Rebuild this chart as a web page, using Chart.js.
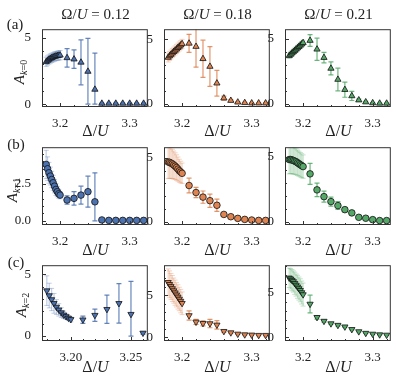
<!DOCTYPE html>
<html>
<head>
<meta charset="utf-8">
<script src="https://cdn.jsdelivr.net/npm/chart.js@4.4.0/dist/chart.umd.min.js"></script>
<style>
  body { margin: 0; background: #fff; }
  #page { position: relative; width: 396px; height: 379px; overflow: hidden; font-family: "Liberation Serif", serif; color: #222; }
  #page canvas { position: absolute; }
  .lbl { position: absolute; white-space: nowrap; transform: translate(-50%, -50%); line-height: 1; }
  .ylbl { position: absolute; white-space: nowrap; transform: translate(-50%, -50%) rotate(-90deg); line-height: 1; font-size: 15px; }
  sub { font-size: 10px; vertical-align: -3px; }
</style>
</head>
<body>
<div id="page"></div>
<script>
// ---- data ----
const omegas = ["0.12", "0.18", "0.21"];
const panelLetters = ["(a)", "(b)", "(c)"];
const kValues = ["0", "1", "2"];

// dense scan near the transition, then the coarse scan
const xDense = [3.180, 3.182, 3.184, 3.186, 3.188, 3.190, 3.192, 3.194, 3.196, 3.198, 3.200];
const xCoarse = [3.21, 3.22, 3.23, 3.24, 3.25, 3.26, 3.27, 3.28, 3.29, 3.30, 3.31, 3.32];
const xCoarseShort = [3.21, 3.22, 3.23, 3.24, 3.25, 3.26];

const xTicks = [3.2, 3.3];
const xTickLabels = ["3.2", "3.3"];
const xTicksFine = [3.20, 3.25];
const xTickLabelsFine = ["3.20", "3.25"];
const yTicks = [0, 5];
const yTickLabels = ["0", "5"];
const yTicksHalf = [0, 2.5];
const yTickLabelsHalf = ["0.0", "2.5"];

// k = 0
const k0w12 = [3.20, 3.30, 3.38, 3.45, 3.50, 3.55, 3.60, 3.63, 3.66, 3.68, 3.70,
  3.50, 3.40, 3.16, 2.47, 1.11, 0.05, 0.05, 0.05, 0.05, 0.05, 0.05, 0.05];
const k0w12Err = [0.35, 0.35, 0.35, 0.35, 0.35, 0.35, 0.35, 0.35, 0.35, 0.35, 0.35,
  0.70, 0.70, 1.70, 2.50, 2.75, 0.03, 0.03, 0.03, 0.03, 0.03, 0.03, 0.03];
const k0w18 = [3.60, 3.72, 3.83, 3.94, 4.05, 4.15, 4.25, 4.36, 4.46, 4.56, 4.66,
  4.70, 4.45, 3.50, 2.90, 1.60, 0.44, 0.25, 0.12, 0.08, 0.05, 0.05, 0.05];
const k0w18Err = [0.35, 0.35, 0.35, 0.35, 0.35, 0.35, 0.35, 0.35, 0.35, 0.35, 0.35,
  0.70, 1.60, 1.45, 1.55, 1.00, 0.15, 0.08, 0.05, 0.03, 0.02, 0.02, 0.02];
const k0w21 = [3.70, 3.80, 3.90, 4.00, 4.10, 4.20, 4.30, 4.40, 4.50, 4.60, 4.70,
  4.87, 4.20, 3.56, 2.73, 1.88, 1.10, 0.62, 0.30, 0.15, 0.08, 0.05, 0.05];
const k0w21Err = [0.20, 0.20, 0.20, 0.20, 0.20, 0.20, 0.20, 0.20, 0.20, 0.20, 0.20,
  0.45, 0.85, 0.40, 0.50, 0.87, 0.58, 0.35, 0.08, 0.05, 0.03, 0.02, 0.02];

// k = 1
const k1w12 = [3.79, 3.50, 3.23, 3.01, 2.78, 2.56, 2.33, 2.11, 1.96, 1.82, 1.73,
  1.40, 1.51, 1.73, 1.96, 1.28, 0.06, 0.03, 0.03, 0.03, 0.03, 0.03, 0.03];
const k1w12Err = [0.95, 0.80, 0.70, 0.60, 0.55, 0.50, 0.45, 0.40, 0.35, 0.30, 0.25,
  0.28, 0.45, 0.60, 1.04, 1.95, 0.05, 0.02, 0.02, 0.02, 0.02, 0.02, 0.02];
const k1w18 = [4.69, 4.66, 4.60, 4.54, 4.45, 4.36, 4.25, 4.13, 4.00, 3.90, 3.80,
  2.84, 2.29, 1.93, 1.65, 1.29, 0.57, 0.39, 0.26, 0.18, 0.13, 0.10, 0.10];
const k1w18Err = [1.30, 1.25, 1.20, 1.15, 1.10, 1.05, 1.00, 0.95, 0.90, 0.85, 0.80,
  0.58, 0.40, 0.48, 0.52, 0.48, 0.08, 0.05, 0.03, 0.02, 0.02, 0.02, 0.02];
const k1w21 = [4.77, 4.77, 4.74, 4.70, 4.65, 4.60, 4.52, 4.45, 4.37, 4.30, 4.23,
  3.67, 2.44, 1.92, 1.54, 1.23, 0.92, 0.67, 0.33, 0.26, 0.15, 0.08, 0.08];
const k1w21Err = [1.10, 1.08, 1.06, 1.04, 1.02, 1.00, 0.98, 0.96, 0.94, 0.92, 0.90,
  0.80, 0.52, 0.42, 0.35, 0.30, 0.15, 0.08, 0.04, 0.03, 0.02, 0.02, 0.02];

// k = 2
const k2w12 = [3.68, 3.28, 2.96, 2.65, 2.35, 2.12, 1.90, 1.72, 1.59, 1.46, 1.35,
  1.32, 1.69, 2.17, 2.65, 1.77, 0.25];
const k2w12Err = [1.20, 1.00, 0.90, 0.80, 0.60, 0.50, 0.40, 0.30, 0.25, 0.20, 0.20,
  0.30, 0.50, 1.15, 1.60, 2.66, 0.10];
const k2w18 = [6.54, 6.30, 6.05, 5.80, 5.55, 5.30, 5.05, 4.80, 4.55, 4.30, 4.04,
  2.58, 1.81, 1.65, 1.62, 1.46, 0.70, 0.54, 0.38, 0.30, 0.27, 0.23, 0.23];
const k2w18Err = [1.60, 1.60, 1.55, 1.55, 1.50, 1.50, 1.45, 1.45, 1.40, 1.40, 1.35,
  0.55, 0.30, 0.30, 0.50, 0.50, 0.12, 0.08, 0.06, 0.05, 0.04, 0.04, 0.04];
const k2w21 = [6.71, 6.60, 6.45, 6.30, 6.10, 5.90, 5.70, 5.50, 5.30, 5.05, 4.82,
  3.75, 2.25, 1.82, 1.54, 1.36, 1.18, 0.89, 0.64, 0.46, 0.36, 0.29, 0.25];
const k2w21Err = [1.10, 1.15, 1.20, 1.20, 1.25, 1.25, 1.30, 1.30, 1.30, 1.30, 1.30,
  1.00, 0.20, 0.12, 0.10, 0.10, 0.08, 0.06, 0.05, 0.04, 0.03, 0.03, 0.03];

// ---- layout ----
const colLeft = [42, 164, 285];
const rowTop = [28, 146, 264];
const plotW = 107;
const plotH = [79, 79, 77];
const AXIS_W = 40;
const AXIS_H = 30;
const PAD = 4;

const colors = [
  {fill: "#4c72b0", bar: "rgba(76,114,176,0.85)", band: "rgba(76,114,176,0.35)"},
  {fill: "#dd8452", bar: "rgba(221,132,82,0.85)", band: "rgba(221,132,82,0.35)"},
  {fill: "#55a868", bar: "rgba(85,168,104,0.85)", band: "rgba(85,168,104,0.35)"},
];
const markers = [
  {style: "triangle", rotation: 0, radius: 3.6},
  {style: "circle", rotation: 0, radius: 3.3},
  {style: "triangle", rotation: 180, radius: 3.6},
];

const panels = [
  {row: 0, col: 0, y: k0w12, err: k0w12Err, xs: xCoarse, x: [3.174, 3.326], yr: [-0.22, 5.67]},
  {row: 0, col: 1, y: k0w18, err: k0w18Err, xs: xCoarse, x: [3.174, 3.326], yr: [-0.25, 5.8]},
  {row: 0, col: 2, y: k0w21, err: k0w21Err, xs: xCoarse, x: [3.174, 3.326], yr: [-0.23, 5.74]},
  {row: 1, col: 0, y: k1w12, err: k1w12Err, xs: xCoarse, x: [3.174, 3.326], yr: [-0.28, 4.95], half: true},
  {row: 1, col: 1, y: k1w18, err: k1w18Err, xs: xCoarse, x: [3.174, 3.326], yr: [-0.26, 5.85]},
  {row: 1, col: 2, y: k1w21, err: k1w21Err, xs: xCoarse, x: [3.174, 3.326], yr: [-0.26, 5.72]},
  {row: 2, col: 0, y: k2w12, err: k2w12Err, xs: xCoarseShort, x: [3.176, 3.264], yr: [-0.4, 5.74], fine: true},
  {row: 2, col: 1, y: k2w18, err: k2w18Err, xs: xCoarse, x: [3.174, 3.326], yr: [-0.46, 8.58]},
  {row: 2, col: 2, y: k2w21, err: k2w21Err, xs: xCoarse, x: [3.174, 3.326], yr: [-0.43, 8.14]},
];

const tickFont = {family: "'Liberation Serif', serif", size: 13};

function barPoints(xs, ys, es) {
  const pts = [];
  xs.forEach((x, i) => {
    pts.push({x, y: Math.max(ys[i] - es[i], 0)});
    pts.push({x, y: ys[i] + es[i]});
    pts.push({x, y: null});
  });
  return pts;
}

// box and inward ticks like the original
const framePlugin = {
  id: "frame",
  afterDraw(chart) {
    const {ctx, chartArea: a} = chart;
    const sx = chart.scales.x;
    const sy = chart.scales.y;
    const o = chart.options.plugins.frame;
    ctx.save();
    ctx.strokeStyle = "#333";
    ctx.lineWidth = 1;
    ctx.strokeRect(a.left + 0.5, a.top + 0.5, a.right - a.left - 1, a.bottom - a.top - 1);
    ctx.beginPath();
    const xStep = o.xMinor;
    for (let v = Math.ceil(sx.min / xStep) * xStep; v <= sx.max; v += xStep) {
      const px = Math.round(sx.getPixelForValue(v)) + 0.5;
      const major = o.xMajor.some(t => Math.abs(t - v) < xStep / 10);
      ctx.moveTo(px, a.bottom);
      ctx.lineTo(px, a.bottom - (major ? 4 : 2));
    }
    const yStep = o.yMinor;
    for (let v = Math.ceil(sy.min / yStep) * yStep; v <= sy.max; v += yStep) {
      const py = Math.round(sy.getPixelForValue(v)) + 0.5;
      const major = o.yMajor.some(t => Math.abs(t - v) < yStep / 10);
      ctx.moveTo(a.left, py);
      ctx.lineTo(a.left + (major ? 4 : 2), py);
    }
    ctx.stroke();
    ctx.restore();
  },
};

const page = document.getElementById("page");

panels.forEach(p => {
  const c = colors[p.col];
  const m = markers[p.row];
  const xAll = xDense.concat(p.xs);
  const nd = xDense.length;
  const xt = p.fine ? xTicksFine : xTicks;
  const xtl = p.fine ? xTickLabelsFine : xTickLabels;
  const yt = p.half ? yTicksHalf : yTicks;
  const ytl = p.half ? yTickLabelsHalf : yTickLabels;

  const canvas = document.createElement("canvas");
  const w = AXIS_W + plotW + PAD;
  const h = PAD + plotH[p.row] + AXIS_H;
  canvas.width = w;
  canvas.height = h;
  canvas.style.width = w + "px";
  canvas.style.height = h + "px";
  canvas.style.left = (colLeft[p.col] - AXIS_W) + "px";
  canvas.style.top = (rowTop[p.row] - PAD) + "px";
  page.appendChild(canvas);

  const pts = xAll.map((x, i) => ({x, y: p.y[i]}));

  new Chart(canvas, {
    type: "scatter",
    data: {
      datasets: [
        {
          type: "line",
          data: barPoints(xDense, p.y.slice(0, nd), p.err.slice(0, nd)),
          borderColor: c.band,
          borderWidth: 1.2,
          pointStyle: "line",
          pointRadius: 2.5,
          pointBorderColor: c.band,
          pointBorderWidth: 1,
          spanGaps: false,
          clip: 0,
          order: 3,
        },
        {
          type: "line",
          data: barPoints(p.xs, p.y.slice(nd), p.err.slice(nd)),
          borderColor: c.bar,
          borderWidth: 1.2,
          pointStyle: "line",
          pointRadius: 2.5,
          pointBorderColor: c.bar,
          pointBorderWidth: 1.2,
          spanGaps: false,
          clip: 0,
          order: 2,
        },
        {
          data: pts,
          pointStyle: m.style,
          rotation: m.rotation,
          pointRadius: m.radius,
          backgroundColor: c.fill,
          borderColor: "#111",
          borderWidth: 0.8,
          clip: false,
          order: 1,
        },
      ],
    },
    options: {
      responsive: false,
      animation: false,
      devicePixelRatio: 1,
      events: [],
      layout: {padding: {top: PAD, right: PAD, left: 0, bottom: 0}},
      plugins: {
        legend: {display: false},
        tooltip: {enabled: false},
        frame: {
          xMajor: xt,
          xMinor: p.fine ? 0.01 : 0.02,
          yMajor: yt,
          yMinor: p.half ? 0.5 : 1,
        },
      },
      scales: {
        x: {
          type: "linear",
          min: p.x[0],
          max: p.x[1],
          grid: {display: false},
          border: {display: false},
          afterBuildTicks: s => { s.ticks = xt.map(v => ({value: v})); },
          afterFit: s => {
            s.height = AXIS_H;
            s.paddingLeft = 0;
            s.paddingRight = 0;
            s.paddingTop = 0;
            s.paddingBottom = 0;
          },
          ticks: {
            font: tickFont,
            color: "#222",
            padding: 1,
            maxRotation: 0,
            autoSkip: false,
            callback: (v, i) => xtl[i],
          },
        },
        y: {
          type: "linear",
          min: p.yr[0],
          max: p.yr[1],
          grid: {display: false},
          border: {display: false},
          afterBuildTicks: s => { s.ticks = yt.map(v => ({value: v})); },
          afterFit: s => {
            s.width = AXIS_W;
            s.paddingLeft = 0;
            s.paddingRight = 0;
            s.paddingTop = 0;
            s.paddingBottom = 0;
          },
          ticks: {
            font: tickFont,
            color: "#222",
            padding: 3,
            autoSkip: false,
            callback: (v, i) => ytl[i],
          },
        },
      },
    },
    plugins: [framePlugin],
  });
});

// ---- text around the grid ----
function addLabel(html, x, y, size, cls) {
  const d = document.createElement("div");
  d.className = cls || "lbl";
  d.innerHTML = html;
  d.style.left = x + "px";
  d.style.top = y + "px";
  if (size) d.style.fontSize = size + "px";
  page.appendChild(d);
}

omegas.forEach((om, col) => {
  addLabel("Ω/<i>U</i> = " + om, colLeft[col] + plotW / 2, 14, 15);
});
const xTitleY = [131, 250, 367];
const letterPos = [[15, 24], [16, 144], [16, 262]];
const yLabelPos = [[20, 72], [13, 190], [22, 305]];
for (let r = 0; r < 3; r++) {
  for (let col = 0; col < 3; col++) {
    addLabel("Δ/<i>U</i>", colLeft[col] + plotW / 2, xTitleY[r], 16);
  }
  addLabel(panelLetters[r], letterPos[r][0], letterPos[r][1], 15);
  addLabel("<i>A</i><sub><i>k</i>=" + kValues[r] + "</sub>", yLabelPos[r][0], yLabelPos[r][1], 15, "ylbl");
}
</script>
</body>
</html>
